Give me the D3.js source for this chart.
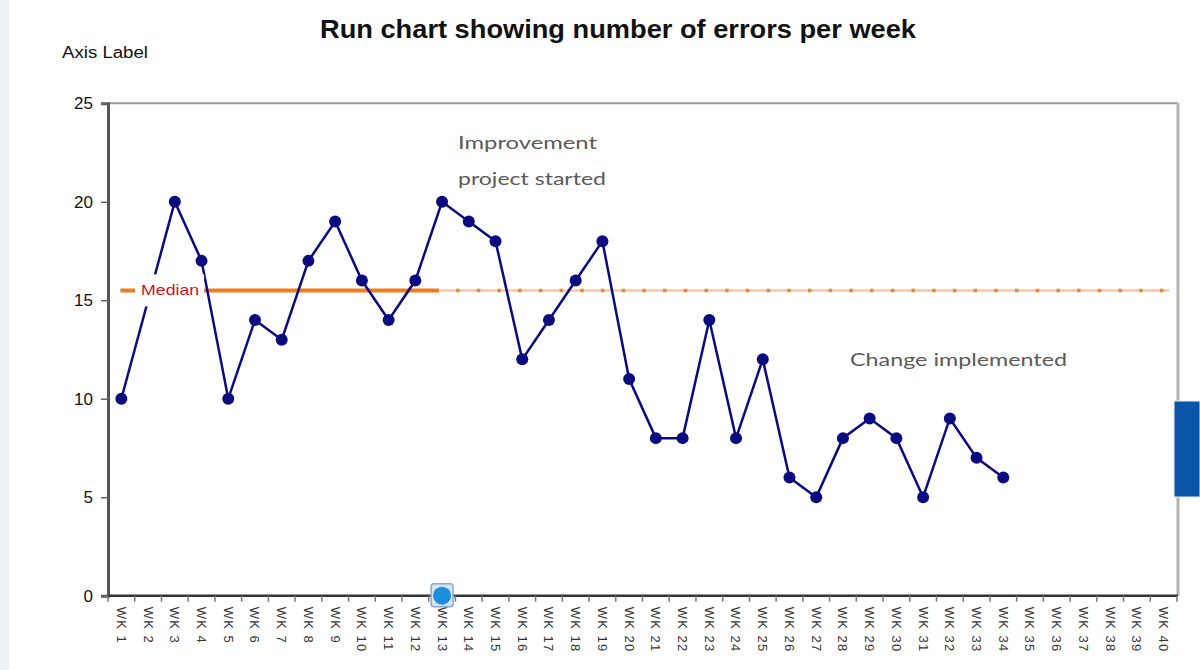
<!DOCTYPE html>
<html>
<head>
<meta charset="utf-8">
<script src="https://cdn.jsdelivr.net/npm/d3@7/dist/d3.min.js"></script>
<style>
  html, body { margin: 0; padding: 0; background: #fff; }
  svg { display: block; }
</style>
</head>
<body>
<svg id="chart" width="1200" height="670"></svg>
<script>
// ---- data ----
const weeks = d3.range(1, 41).map(i => "WK " + i);
const errorWeeks = d3.range(1, 35).map(i => "WK " + i);
const errors = [10, 15, 20, 17, 10, 14, 13, 17, 19, 16, 14, 16, 20, 19, 18, 12, 14, 16, 18, 11,
                8, 8, 14, 8, 12, 6, 5, 8, 9, 8, 5, 9, 7, 6];
const medianValue = 15.5;
const medianBaselineEnd = "WK 13";
const yTicks = [0, 5, 10, 15, 20, 25];
const highlightWeek = "WK 13";
const highlightValue = 0;
const titleText = "Run chart showing number of errors per week";
const axisLabelText = "Axis Label";
const annotation1 = ["Improvement", "project started"];
const annotation2 = "Change implemented";

// ---- layout ----
const svg = d3.select("#chart");
const plot = { left: 108, right: 1177, top: 103.3, bottom: 595.7 };

const x = d3.scaleBand().domain(weeks).range([plot.left, plot.right]).padding(0);
const cx = d => x(d) + x.bandwidth() / 2;
const y = d3.scaleLinear().domain([0, 25]).range([plot.bottom, plot.top]);

// decorative page bits
svg.append("rect").attr("x", 0).attr("y", 0).attr("width", 9).attr("height", 670).attr("fill", "#eef0f4");

// title
svg.append("text").attr("x", 320).attr("y", 38)
  .attr("font-family", "Liberation Sans, Arial, sans-serif").attr("font-weight", "bold")
  .attr("font-size", 26).attr("textLength", 596).attr("lengthAdjust", "spacingAndGlyphs")
  .attr("fill", "#111").text(titleText);

svg.append("text").attr("x", 62).attr("y", 58)
  .attr("font-family", "Liberation Sans, Arial, sans-serif")
  .attr("font-size", 16).attr("textLength", 86).attr("lengthAdjust", "spacingAndGlyphs")
  .attr("fill", "#111").text(axisLabelText);

// plot border (top + right)
svg.append("line").attr("x1", plot.left).attr("x2", plot.right + 1).attr("y1", y(25)).attr("y2", y(25))
  .attr("stroke", "#9a9a9a").attr("stroke-width", 2);
svg.append("line").attr("x1", plot.right + 1).attr("x2", plot.right + 1).attr("y1", y(25)).attr("y2", y(0))
  .attr("stroke", "#b4b4b4").attr("stroke-width", 3);

// y axis
const yAxis = d3.axisLeft(y).tickValues(yTicks).tickSize(7).tickPadding(8);
const gy = svg.append("g").attr("transform", `translate(${plot.left},0)`).call(yAxis);
gy.select(".domain").attr("stroke", "#555").attr("stroke-width", 3);
gy.selectAll(".tick line").attr("stroke", "#666").attr("stroke-width", 1.5);
gy.selectAll(".tick text").attr("font-family", "Liberation Sans Narrow, Liberation Sans, Arial, sans-serif")
  .attr("font-size", 17).attr("fill", "#111");

// x axis: ticks at band boundaries, labels at band centres
const gx = svg.append("g");
gx.append("line").attr("x1", plot.left).attr("x2", plot.right + 1).attr("y1", y(0)).attr("y2", y(0))
  .attr("stroke", "#333").attr("stroke-width", 2.5);
const boundaries = weeks.map(w => x(w)).concat([x(weeks[weeks.length - 1]) + x.bandwidth()]);
gx.selectAll("line.tk").data(boundaries).enter().append("line").attr("class", "tk")
  .attr("x1", d => d).attr("x2", d => d).attr("y1", y(0)).attr("y2", y(0) + 6)
  .attr("stroke", "#777").attr("stroke-width", 1.5);
gx.selectAll("text.lbl").data(weeks).enter().append("text").attr("class", "lbl")
  .attr("transform", d => `translate(${cx(d)},${y(0) + 11}) rotate(90)`)
  .attr("dy", "0.35em")
  .attr("font-family", "Liberation Sans, Arial, sans-serif").attr("font-size", 13)
  .attr("letter-spacing", 1.4).attr("fill", "#333").text(d => d);

// median line: solid over baseline weeks, dotted afterwards
const my = y(medianValue);
const medStartX = cx(weeks[0]) - 1;
const medSolidEnd = cx(medianBaselineEnd) - 3;
svg.append("line").attr("x1", medStartX).attr("x2", medSolidEnd).attr("y1", my).attr("y2", my)
  .attr("stroke", "#f07c20").attr("stroke-width", 4);
svg.append("line").attr("x1", medSolidEnd).attr("x2", plot.right - 8).attr("y1", my).attr("y2", my)
  .attr("stroke", "#f6caa0").attr("stroke-width", 2.5);
svg.append("line").attr("x1", medSolidEnd + 17).attr("x2", plot.right - 8).attr("y1", my).attr("y2", my)
  .attr("stroke", "#e5883c").attr("stroke-width", 3.5).attr("stroke-dasharray", "3.5,17.2");

// data line
const line = d3.line().x((d, i) => cx(errorWeeks[i])).y(d => y(d));
svg.append("path").datum(errors).attr("d", line).attr("fill", "none")
  .attr("stroke", "#0b0b80").attr("stroke-width", 2.5);
svg.selectAll("circle.pt").data(errors).enter().append("circle").attr("class", "pt")
  .attr("cx", (d, i) => cx(errorWeeks[i])).attr("cy", d => y(d)).attr("r", 6)
  .attr("fill", "#0b0b80");

// median label (white box over the line)
const medLabelX = cx("WK 2") - 11;
svg.append("rect").attr("x", medLabelX - 2).attr("y", my - 16).attr("width", 69).attr("height", 32)
  .attr("fill", "#fff");
svg.append("text").attr("x", medLabelX + 4).attr("y", my + 5)
  .attr("font-family", "Liberation Sans Narrow, Liberation Sans, Arial, sans-serif")
  .attr("font-size", 15).attr("textLength", 58).attr("lengthAdjust", "spacingAndGlyphs")
  .attr("fill", "#d0141e").text("Median");

// annotations
const annFont = "Lato, Open Sans, sans-serif";
svg.append("text").attr("x", 458).attr("y", 149).attr("font-family", annFont).attr("font-size", 18)
  .attr("textLength", 139).attr("lengthAdjust", "spacingAndGlyphs").attr("fill", "#5a5a5a").text(annotation1[0]);
svg.append("text").attr("x", 458).attr("y", 185).attr("font-family", annFont).attr("font-size", 18)
  .attr("textLength", 148).attr("lengthAdjust", "spacingAndGlyphs").attr("fill", "#5a5a5a").text(annotation1[1]);
svg.append("text").attr("x", 850).attr("y", 366).attr("font-family", annFont).attr("font-size", 18)
  .attr("textLength", 217).attr("lengthAdjust", "spacingAndGlyphs").attr("fill", "#5a5a5a").text(annotation2);

// highlighted point on the axis
const hx = cx(highlightWeek), hy = y(highlightValue);
svg.append("rect").attr("x", hx - 11).attr("y", hy - 12).attr("width", 22).attr("height", 23).attr("rx", 3)
  .attr("fill", "#d6e4f3").attr("stroke", "#8ca8cc").attr("stroke-width", 1.5);
svg.append("circle").attr("cx", hx).attr("cy", hy).attr("r", 9).attr("fill", "#1c8ee0");

// page UI element on the right
svg.append("rect").attr("x", 1174).attr("y", 401).attr("width", 26).attr("height", 96).attr("fill", "#0a55a8")
  .attr("stroke", "#e8f0fa").attr("stroke-width", 1);
</script>
</body>
</html>
